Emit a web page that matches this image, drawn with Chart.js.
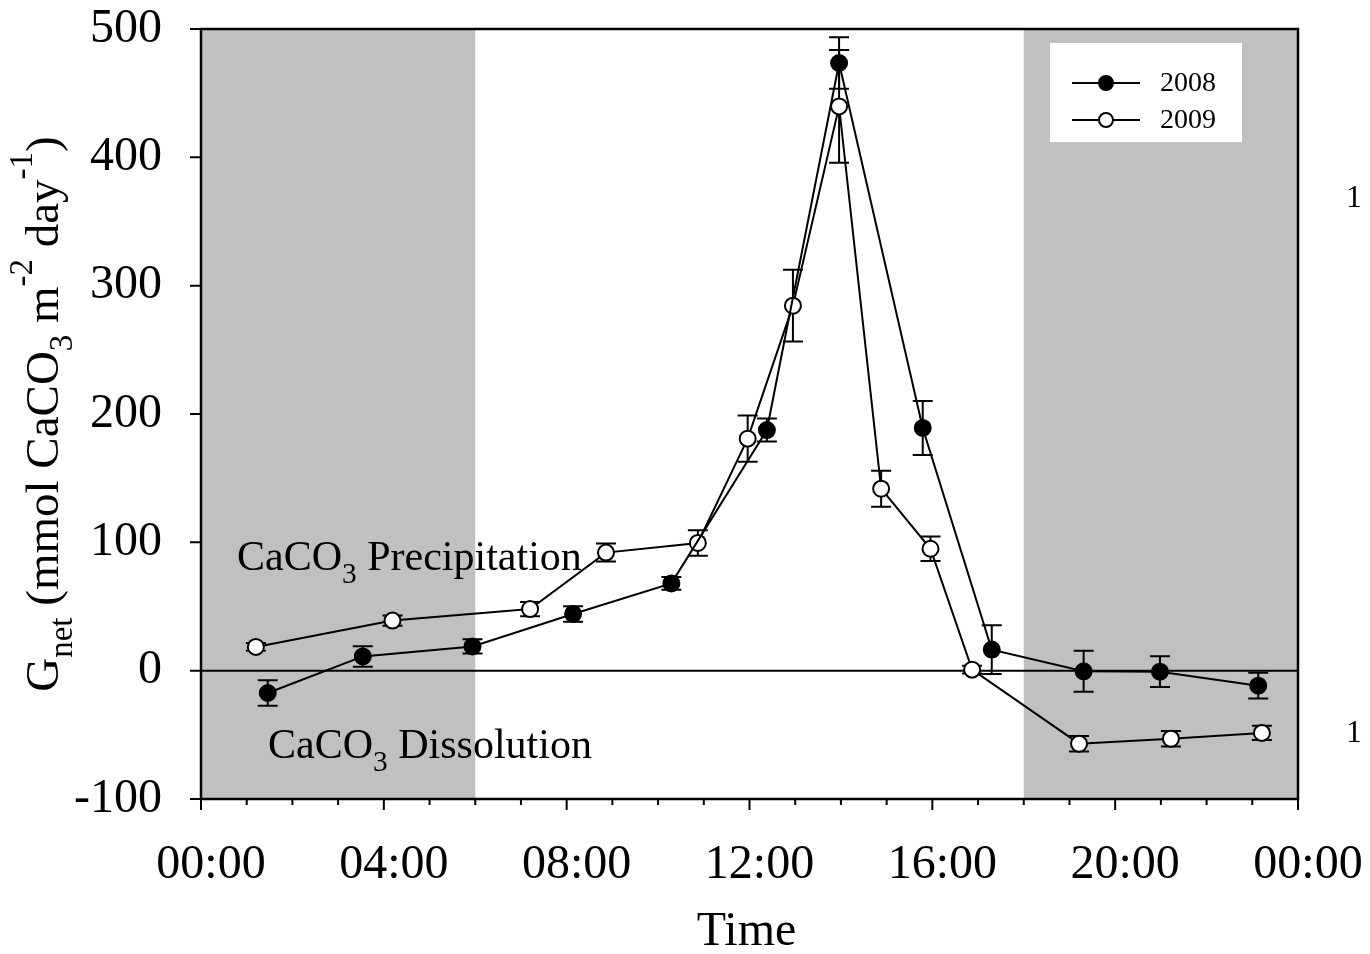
<!DOCTYPE html>
<html>
<head>
<meta charset="utf-8">
<script src="https://cdn.jsdelivr.net/npm/chart.js@4.4.1/dist/chart.umd.min.js"></script>
<style>
  html, body { margin: 0; padding: 0; background: #fff; }
  #wrap { width: 1370px; height: 954px; }
</style>
</head>
<body>
<div id="wrap"><canvas id="chart" width="1370" height="954"></canvas></div>
<script>
// net calcification over the day, hour of day on x
const hours2008 = [1.46, 3.54, 5.94, 8.14, 10.29, 12.38, 13.96, 15.79, 17.30, 19.31, 20.98, 23.13];
const gnet2008  = [-17.4, 11.1, 18.9, 44.2, 68.0, 187.5, 473.5, 189.1, 16.4, -0.5, -0.8, -11.7];
const err2008   = [10, 8, 5.5, 6, 5, 9, 20, 21, 19, 16, 12, 10];

const hours2009 = [1.20, 4.19, 7.20, 8.86, 10.87, 11.96, 12.95, 13.96, 14.88, 15.96, 16.87, 19.21, 21.22, 23.21];
const gnet2009  = [18.5, 39, 48, 92, 99.5, 180.8, 284.4, 439.7, 141.8, 95, 0.8, -56.9, -53, -48.5];
const err2009   = [3, 4, 5.5, 7, 10, 18, 28, 44, 14, 9.6, 3, 6, 6, 5.5];

const nightPeriods = [[0, 6], [18, 24]];
const xTicks = [0, 4, 8, 12, 16, 20, 24];
const yTicks = [-100, 0, 100, 200, 300, 400, 500];

const SERIF = '"Liberation Serif", "Times New Roman", serif';

const toPoints = (xs, ys) => xs.map((x, i) => ({ x: x, y: ys[i] }));

// draws a string made of normal / sub / sup pieces, starting at x on baseline y
const richText = (ctx, x, y, parts, size) => {
    let cx = x;
    parts.forEach(([txt, kind]) => {
        const s = kind ? size * 0.7 : size;
        const dy = kind === 'sub' ? size * 0.3 : kind === 'sup' ? -size * 0.55 : 0;
        ctx.font = s + 'px ' + SERIF;
        ctx.fillText(txt, cx, y + dy);
        cx += ctx.measureText(txt).width;
    });
    return cx - x;
};
const richWidth = (ctx, parts, size) => {
    let w = 0;
    parts.forEach(([txt, kind]) => {
        ctx.font = (kind ? size * 0.7 : size) + 'px ' + SERIF;
        w += ctx.measureText(txt).width;
    });
    return w;
};

// keep the plot box where the layout padding puts it
const noScalePadding = (s) => {
    s.paddingTop = 0; s.paddingBottom = 0; s.paddingLeft = 0; s.paddingRight = 0;
};

const backdrop = {
    id: 'backdrop',
    beforeDatasetsDraw(chart) {
        const { ctx, chartArea: a, scales: { x, y } } = chart;
        ctx.save();
        ctx.fillStyle = '#c0c0c0';
        nightPeriods.forEach(([s, e]) => {
            const x0 = x.getPixelForValue(s), x1 = x.getPixelForValue(e);
            ctx.fillRect(x0, a.top, x1 - x0, a.bottom - a.top);
        });
        // zero line
        ctx.strokeStyle = '#000';
        ctx.lineWidth = 2;
        ctx.beginPath();
        ctx.moveTo(a.left, y.getPixelForValue(0));
        ctx.lineTo(a.right, y.getPixelForValue(0));
        ctx.stroke();
        // error bars, under the markers
        const bars = [[hours2008, gnet2008, err2008], [hours2009, gnet2009, err2009]];
        bars.forEach(([hs, vs, es]) => {
            hs.forEach((h, i) => {
                const px = x.getPixelForValue(h);
                const top = y.getPixelForValue(vs[i] + es[i]);
                const bot = y.getPixelForValue(vs[i] - es[i]);
                ctx.beginPath();
                ctx.moveTo(px, top); ctx.lineTo(px, bot);
                ctx.moveTo(px - 10, top); ctx.lineTo(px + 10, top);
                ctx.moveTo(px - 10, bot); ctx.lineTo(px + 10, bot);
                ctx.stroke();
            });
        });
        ctx.restore();
    }
};

const decorations = {
    id: 'decorations',
    afterDraw(chart) {
        const { ctx, chartArea: a, scales: { x, y } } = chart;
        ctx.save();
        ctx.strokeStyle = '#000';
        ctx.fillStyle = '#000';

        // frame
        ctx.lineWidth = 2.5;
        ctx.strokeRect(a.left, a.top, a.right - a.left, a.bottom - a.top);

        // tick marks
        ctx.lineWidth = 2;
        ctx.beginPath();
        for (let h = 0; h <= 24; h++) {
            const px = x.getPixelForValue(h);
            ctx.moveTo(px, a.bottom);
            ctx.lineTo(px, a.bottom + (h % 4 === 0 ? 11 : 6));
        }
        yTicks.forEach(v => {
            const py = y.getPixelForValue(v);
            ctx.moveTo(a.left, py);
            ctx.lineTo(a.left - 11, py);
        });
        ctx.stroke();

        // x title
        ctx.textBaseline = 'alphabetic';
        ctx.font = '48px ' + SERIF;
        ctx.textAlign = 'center';
        ctx.fillText('Time', (a.left + a.right) / 2 - 3, 945);
        ctx.textAlign = 'left';

        // y title, rotated
        const yTitle = [['G', ''], ['net', 'sub'], [' (mmol CaCO', ''], ['3', 'sub'], [' m', ''],
                        ['-2', 'sup'], [' day', ''], ['-1', 'sup'], [')', '']];
        ctx.save();
        ctx.translate(58, 414);
        ctx.rotate(-Math.PI / 2);
        const w = richWidth(ctx, yTitle, 47);
        richText(ctx, -w / 2, 0, yTitle, 47);
        ctx.restore();

        // region labels
        richText(ctx, 237, 570, [['CaCO', ''], ['3', 'sub'], [' Precipitation', '']], 42);
        richText(ctx, 268, 758, [['CaCO', ''], ['3', 'sub'], [' Dissolution', '']], 42);

        // legend
        ctx.fillStyle = '#fff';
        ctx.fillRect(1050, 43, 192, 99);
        const rows = [['2008', '#000', 83], ['2009', '#fff', 120]];
        rows.forEach(([label, fill, ry]) => {
            ctx.strokeStyle = '#000';
            ctx.lineWidth = 2;
            ctx.beginPath();
            ctx.moveTo(1072, ry); ctx.lineTo(1140, ry);
            ctx.stroke();
            ctx.beginPath();
            ctx.arc(1106, ry, 7, 0, Math.PI * 2);
            ctx.fillStyle = fill;
            ctx.fill();
            ctx.stroke();
            ctx.fillStyle = '#000';
            ctx.font = '28px ' + SERIF;
            ctx.textBaseline = 'middle';
            ctx.fillText(label, 1160, ry + 1);
            ctx.textBaseline = 'alphabetic';
        });

        // stray panel labels at the right edge
        ctx.font = '32px ' + SERIF;
        ctx.fillText('1', 1346, 207);
        ctx.fillText('1', 1346, 742);
        ctx.restore();
    }
};

new Chart(document.getElementById('chart'), {
    type: 'line',
    data: {
        datasets: [
            {
                label: '2008',
                data: toPoints(hours2008, gnet2008),
                borderColor: '#000',
                borderWidth: 2,
                pointRadius: 8,
                pointBorderWidth: 2,
                pointBackgroundColor: '#000',
                pointBorderColor: '#000',
                tension: 0
            },
            {
                label: '2009',
                data: toPoints(hours2009, gnet2009),
                borderColor: '#000',
                borderWidth: 2,
                pointRadius: 8,
                pointBorderWidth: 2,
                pointBackgroundColor: '#fff',
                pointBorderColor: '#000',
                tension: 0
            }
        ]
    },
    options: {
        responsive: false,
        animation: false,
        devicePixelRatio: 1,
        layout: { padding: { top: 29, right: 72, left: 0, bottom: 0 } },
        plugins: { legend: { display: false }, tooltip: { enabled: false } },
        scales: {
            x: {
                type: 'linear',
                min: 0,
                max: 24,
                grid: { display: false },
                border: { display: false },
                afterBuildTicks: (s) => { s.ticks = xTicks.map(v => ({ value: v })); },
                afterFit: (s) => { s.height = 155; noScalePadding(s); },
                ticks: {
                    color: '#000',
                    font: { family: SERIF, size: 48 },
                    padding: 30,
                    labelOffset: 10,
                    maxRotation: 0,
                    callback: (v) => String(v % 24).padStart(2, '0') + ':00'
                }
            },
            y: {
                min: -100,
                max: 500,
                grid: { display: false },
                border: { display: false },
                afterBuildTicks: (s) => { s.ticks = yTicks.map(v => ({ value: v })); },
                afterFit: (s) => { s.width = 201; noScalePadding(s); },
                ticks: {
                    color: '#000',
                    font: { family: SERIF, size: 48 },
                    padding: 31,
                    callback: (v) => String(v)
                }
            }
        }
    },
    plugins: [backdrop, decorations]
});
</script>
</body>
</html>
